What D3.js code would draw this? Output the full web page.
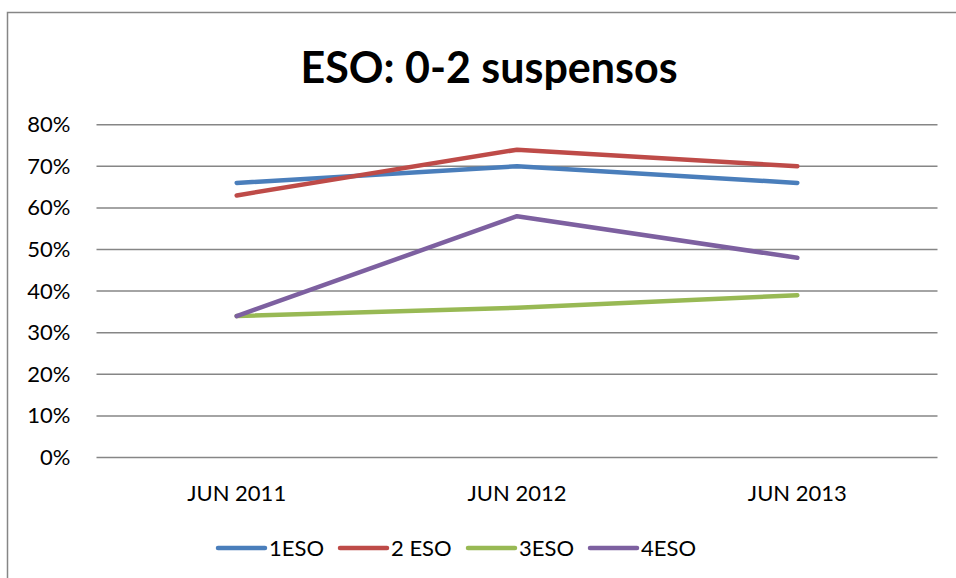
<!DOCTYPE html>
<html lang="es">
  <head>
    <meta charset="utf-8">
    <title>ESO: 0-2 suspensos</title>
    <script src="https://d3js.org/d3.v7.min.js"></script>
    <style>
      body { margin: 0; background: #fff; }
      text { font-family: Lato, "Open Sans", sans-serif; fill: #000; }
      .grid line { stroke: #868686; stroke-width: 1.5; }
    </style>
  </head>
  <body>
    <svg id="chart" width="956" height="578"></svg>
<script>

// data
var categories = ["JUN 2011", "JUN 2012", "JUN 2013"];
var seriesNames = ["1ESO", "2 ESO", "3ESO", "4ESO"];
var eso1 = [0.66, 0.70, 0.66];
var eso2 = [0.63, 0.74, 0.70];
var eso3 = [0.34, 0.36, 0.39];
var eso4 = [0.34, 0.58, 0.48];
var yTicks = [0, 0.1, 0.2, 0.3, 0.4, 0.5, 0.6, 0.7, 0.8];
var colors = ["#4A7EBB", "#BE4B48", "#98B954", "#7D60A0"];

var allSeries = [eso1, eso2, eso3, eso4];

var svg = d3.select("#chart");

// chart border (right / bottom edges are off the picture)
svg.append("rect")
  .attr("x", 7.5).attr("y", 12.5)
  .attr("width", 1000).attr("height", 1000)
  .attr("fill", "none")
  .attr("stroke", "#868686")
  .attr("stroke-width", 1.5);

var plotLeft = 96.5, plotRight = 937.5, plotTop = 124.7, plotBottom = 457.5;

var x = d3.scaleBand().domain(categories).range([plotLeft, plotRight]);
var y = d3.scaleLinear().domain([0, 0.8]).range([plotBottom, plotTop]);

// title
svg.append("text")
  .attr("x", 489).attr("y", 83)
  .attr("text-anchor", "middle")
  .style("font-size", "43px")
  .style("font-weight", "bold")
  .text("ESO: 0-2 suspensos");

// gridlines
svg.append("g").attr("class", "grid")
  .selectAll("line")
  .data(yTicks)
  .enter().append("line")
  .attr("x1", plotLeft).attr("x2", plotRight)
  .attr("y1", function (d) { return y(d); })
  .attr("y2", function (d) { return y(d); });

// y axis labels
var yAxis = d3.axisLeft(y)
  .tickValues(yTicks)
  .tickFormat(d3.format(".0%"))
  .tickSize(0)
  .tickPadding(26);
var gy = svg.append("g")
  .attr("transform", "translate(" + plotLeft + ",0)")
  .call(yAxis);
gy.select(".domain").remove();
gy.selectAll("text")
  .style("font-family", "Lato, 'Open Sans', sans-serif")
  .style("font-size", "22px");

// x axis labels
var xAxis = d3.axisBottom(x).tickSize(0).tickPadding(28);
var gx = svg.append("g")
  .attr("transform", "translate(0," + plotBottom + ")")
  .call(xAxis);
gx.select(".domain").remove();
gx.selectAll("text")
  .style("font-family", "Lato, 'Open Sans', sans-serif")
  .style("font-size", "22px");

// lines
var line = d3.line()
  .x(function (d, i) { return x(categories[i]) + x.bandwidth() / 2; })
  .y(function (d) { return y(d); });

svg.append("g")
  .selectAll("path")
  .data(allSeries)
  .enter().append("path")
  .attr("d", line)
  .attr("fill", "none")
  .attr("stroke", function (d, i) { return colors[i]; })
  .attr("stroke-width", 4.5)
  .attr("stroke-linecap", "round")
  .attr("stroke-linejoin", "round");

// legend
var legendX = [218, 340, 468, 590];
var lg = svg.append("g").attr("class", "legend")
  .selectAll("g")
  .data(seriesNames)
  .enter().append("g")
  .attr("transform", function (d, i) { return "translate(" + legendX[i] + ",548)"; });
lg.append("line")
  .attr("x1", 0).attr("x2", 47)
  .attr("stroke", function (d, i) { return colors[i]; })
  .attr("stroke-width", 4.5)
  .attr("stroke-linecap", "round");
lg.append("text")
  .attr("x", 51).attr("y", 8)
  .style("font-size", "22px")
  .text(function (d) { return d; });

</script>
  </body>
</html>
